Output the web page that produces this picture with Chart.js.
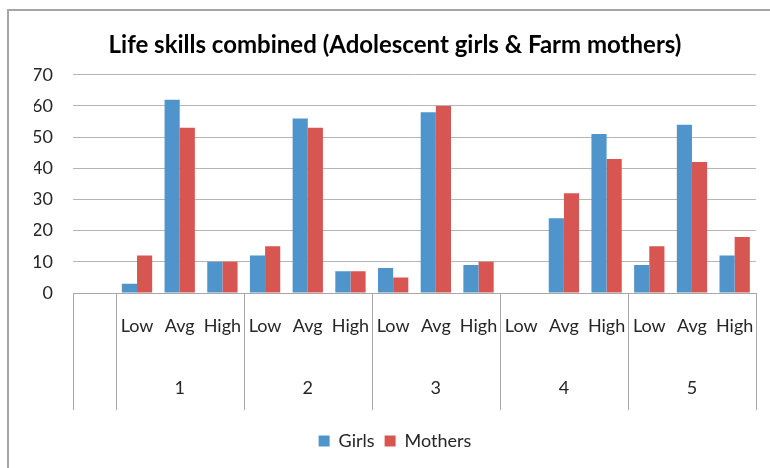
<!DOCTYPE html>
<html>
<head>
<meta charset="utf-8">
<script src="https://cdn.jsdelivr.net/npm/chart.js@4"></script>
<style>
  html, body { margin: 0; padding: 0; background: #fff; }
  #wrap { position: relative; width: 770px; height: 468px; }
  #frame { position: absolute; left: 7px; top: 9px; right: -4px; bottom: -4px;
           border-left: 2px solid #a6a6a6; border-top: 2px solid #a6a6a6; pointer-events: none; }
  canvas { position: absolute; left: 0; top: 0; }
</style>
</head>
<body>
<div id="wrap">
  <canvas id="c" width="770" height="468"></canvas>
  <div id="frame"></div>
</div>
<script>
const categories = ['', 'Low', 'Avg', 'High', 'Low', 'Avg', 'High', 'Low', 'Avg', 'High', 'Low', 'Avg', 'High', 'Low', 'Avg', 'High'];
const groupLabels = ['1', '2', '3', '4', '5'];
const girls   = [null, 3, 62, 10, 12, 56, 7, 8, 58, 9, 0, 24, 51, 9, 54, 12];
const mothers = [null, 12, 53, 10, 15, 53, 7, 5, 60, 10, 0, 32, 43, 15, 42, 18];
const yTicks = [0, 10, 20, 30, 40, 50, 60, 70];

const FONT = 'Lato, "Open Sans", sans-serif';
const TEXT = '#262626';

const groupAxis = {
  id: 'groupAxis',
  afterDraw(chart) {
    const ctx = chart.ctx;
    const x = chart.scales.x;
    const area = chart.chartArea;
    const top = area.bottom;
    const bottom = area.bottom + 117;
    const bounds = [area.left];
    for (let g = 0; g < groupLabels.length; g++) {
      const first = 1 + g * 3;
      bounds.push((x.getPixelForValue(first - 1) + x.getPixelForValue(first)) / 2);
    }
    bounds.push(area.right);
    ctx.save();
    ctx.strokeStyle = '#a8a8a8';
    ctx.lineWidth = 1;
    bounds.forEach(b => {
      const px = Math.round(b) + 0.5;
      ctx.beginPath();
      ctx.moveTo(px, top);
      ctx.lineTo(px, bottom);
      ctx.stroke();
    });
    ctx.fillStyle = TEXT;
    ctx.font = '18px ' + FONT;
    ctx.textAlign = 'center';
    ctx.textBaseline = 'middle';
    groupLabels.forEach((lab, g) => {
      const cx = x.getPixelForValue(2 + g * 3);
      ctx.fillText(lab, cx, area.bottom + 95);
    });
    ctx.restore();
  }
};

new Chart(document.getElementById('c'), {
  type: 'bar',
  data: {
    labels: categories,
    datasets: [
      { label: 'Girls', data: girls, backgroundColor: '#4f95cc' },
      { label: 'Mothers', data: mothers, backgroundColor: '#d85651' }
    ]
  },
  options: {
    responsive: false,
    animation: false,
    maintainAspectRatio: false,
    layout: { padding: { left: 34, right: 14, top: 10, bottom: 8 } },
    datasets: { bar: { categoryPercentage: 0.71, barPercentage: 1.0 } },
    plugins: {
      title: {
        display: true,
        text: 'Life skills combined (Adolescent girls & Farm mothers)',
        color: '#000',
        font: { family: FONT, size: 24, weight: 'bold' },
        padding: { top: 21, bottom: 15 }
      },
      legend: {
        position: 'bottom',
        labels: {
          color: TEXT,
          font: { family: FONT, size: 18 },
          boxWidth: 11,
          boxHeight: 11,
          padding: 10
        }
      },
      tooltip: { enabled: false }
    },
    scales: {
      x: {
        grid: { display: false, drawTicks: false },
        border: { display: true, color: '#a8a8a8' },
        ticks: { color: TEXT, font: { family: FONT, size: 18 }, padding: 22, autoSkip: false, maxRotation: 0 },
        afterFit(scale) { scale.height = 129; scale.paddingLeft = 0; scale.paddingRight = 0; }
      },
      y: {
        min: 0,
        max: 70,
        afterBuildTicks(scale) { scale.ticks = yTicks.map(v => ({ value: v })); },
        grid: { color: '#b5b5b5', lineWidth: 1, drawTicks: false },
        border: { display: false },
        ticks: { color: TEXT, font: { family: FONT, size: 18 }, padding: 20 },
        afterFit(scale) { scale.width = 39; }
      }
    }
  },
  plugins: [groupAxis]
});
</script>
</body>
</html>
